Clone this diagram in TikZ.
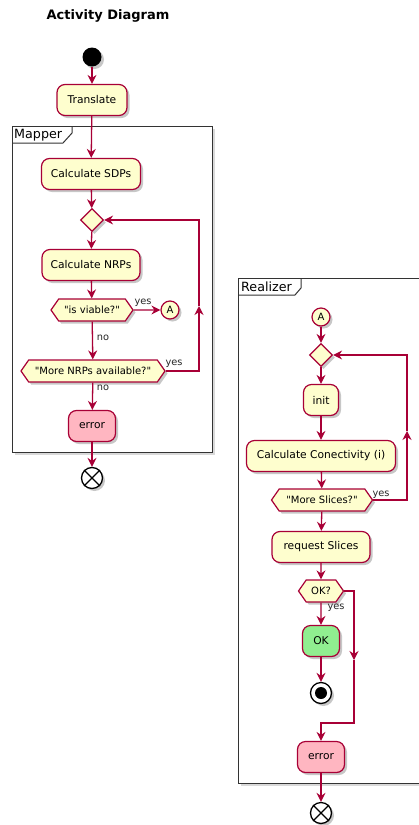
\documentclass[tikz,border=0pt]{standalone}
\usepackage{fontspec}
\setmainfont{DejaVu Sans}[Ligatures=TeXOff]
\usetikzlibrary{arrows.meta,shapes.symbols,shapes.geometric,shadows}
\definecolor{actfill}{HTML}{FEFECE}
\definecolor{actborder}{HTML}{A80036}
\definecolor{errfill}{HTML}{FFB6C1}
\definecolor{okfill}{HTML}{90EE90}
\definecolor{framecol}{HTML}{333333}
\begin{document}
\begin{tikzpicture}[x=1pt,y=-1pt,
  shad/.style={drop shadow={shadow xshift=2.5pt,shadow yshift=-2.5pt,fill=black,opacity=0.22}},
  actbox/.style={draw=actborder,line width=1.2pt,fill=actfill,rounded corners=8pt,
    minimum height=31pt,inner xsep=0pt,font=\fontsize{10.7}{12}\selectfont,shad},
  errbox/.style={actbox,fill=errfill},
  okbox/.style={actbox,fill=okfill},
  hexa/.style={shape=signal,signal to=west and east,signal pointer angle=110,
    draw=actborder,line width=1.2pt,fill=actfill,minimum height=22pt,inner xsep=0pt,
    font=\fontsize{10}{12}\selectfont,shad},
  merge/.style={shape=diamond,draw=actborder,line width=1.2pt,fill=actfill,
    minimum width=23pt,minimum height=23pt,inner sep=0pt,shad},
  conn/.style={circle,draw=actborder,line width=1.2pt,fill=actfill,minimum size=18pt,
    inner sep=0pt,font=\fontsize{10}{12}\selectfont,shad},
  startnode/.style={circle,fill=black,minimum size=19pt,inner sep=0pt,shad},
  endnode/.style={circle,draw=black,line width=1.3pt,fill=white,minimum size=21pt,inner sep=0pt,shad},
  frame/.style={draw=framecol,line width=1pt,fill=white,
    drop shadow={shadow xshift=3pt,shadow yshift=-3pt,fill=black,opacity=0.15}},
  tab/.style={draw=framecol,line width=1pt},
  framelabel/.style={anchor=west,inner sep=0pt,font=\fontsize{12.7}{14}\selectfont,text=black},
  lbl/.style={inner sep=0pt,font=\fontsize{9.8}{11}\selectfont,text=black!85},
  arr/.style={draw=actborder,line width=1.3pt,-{Stealth[length=9pt,width=9pt,inset=3pt]}},
  line/.style={draw=actborder,line width=1.3pt}
]
\useasboundingbox (0,0) rectangle (419,825);
\clip (0,0) rectangle (419,825);

% title
\node[font=\bfseries\fontsize{13}{15}\selectfont] (title) at (108,16) {Activity Diagram};

% frames
\path[frame] (12,126) rectangle (212,452);
\draw[tab] (12,143) -- (63,143) -- (72,133) -- (72,126);
\node[framelabel] (maplbl) at (14,135) {Mapper};

\path[frame] (238,278) rectangle (440,783);
\draw[tab] (238,295) -- (295,295) -- (301,288) -- (301,278);
\node[framelabel] (reallbl) at (241,287) {Realizer};

% Mapper nodes
\node[startnode] (start) at (92,57) {};
\node[actbox,minimum width=70pt] (translate) at (92,100) {Translate};
\node[actbox,minimum width=99pt] (sdps) at (91,174) {Calculate SDPs};
\node[merge] (d1) at (92,220) {};
\node[actbox,minimum width=98pt] (nrps) at (91,265) {Calculate NRPs};
\node[hexa,minimum width=82pt] (viable) at (92,310) {"is viable?"};
\node[conn] (a1) at (170,310) {A};
\node[hexa,minimum width=144pt] (morenrp) at (93,371) {"More NRPs available?"};
\node[errbox,minimum width=47pt] (err1) at (92,426) {error};
\node[endnode] (end1) at (92,478) {};
\draw[black,line width=1.3pt] (end1.north west) -- (end1.south east)
  (end1.north east) -- (end1.south west);

% Mapper connectors
\draw[arr] (start) -- (translate);
\draw[arr] (translate) -- (sdps);
\draw[arr] (sdps) -- (d1);
\draw[arr] (d1) -- (nrps);
\draw[arr] (nrps) -- (viable);
\draw[arr] (viable) -- (a1);
\node[lbl] (yes1) at (143,303) {yes};
\draw[arr] (viable) -- (morenrp);
\node[lbl] (no1) at (103,338) {no};
\coordinate (c1) at (199,371);
\coordinate (c1m) at (199,306);
\coordinate (c1t) at (199,220);
\draw[arr] (morenrp.east) -- (c1) -- (c1m);
\draw[arr] (c1m) -- (c1t) -- (d1.east);
\node[lbl] (yes2) at (174,364) {yes};
\draw[arr] (morenrp) -- (err1);
\node[lbl] (no2) at (103,388) {no};
\draw[arr] (err1) -- (end1);

% Realizer nodes
\node[conn] (a2) at (321,317) {A};
\node[merge] (d2) at (321,355) {};
\node[actbox,minimum width=35pt] (init) at (321,400) {init};
\node[actbox,minimum width=149pt] (connect) at (321,456) {Calculate Conectivity (i)};
\node[hexa,minimum width=101pt] (moresl) at (322,500) {"More Slices?"};
\node[actbox,minimum width=98pt] (request) at (321,547) {request Slices};
\node[hexa,minimum width=45pt] (okq) at (321,591) {OK?};
\node[okbox,minimum width=37pt] (ok) at (321,641) {OK};
\node[endnode] (stop) at (321,693) {};
\node[circle,fill=black,minimum size=12pt,inner sep=0pt] (stopin) at (stop) {};
\node[errbox,minimum width=47pt] (err2) at (321,757) {error};
\node[endnode] (end2) at (321,813) {};
\draw[black,line width=1.3pt] (end2.north west) -- (end2.south east)
  (end2.north east) -- (end2.south west);

% Realizer connectors
\draw[arr] (a2) -- (d2);
\draw[arr] (d2) -- (init);
\draw[arr] (init) -- (connect);
\draw[arr] (connect) -- (moresl);
\coordinate (c2) at (407,500);
\coordinate (c2m) at (407,431);
\coordinate (c2t) at (407,355);
\draw[arr] (moresl.east) -- (c2) -- (c2m);
\draw[arr] (c2m) -- (c2t) -- (d2.east);
\node[lbl] (yes3) at (381,495) {yes};
\draw[arr] (moresl) -- (request);
\draw[arr] (request) -- (okq);
\draw[arr] (okq) -- (ok);
\node[lbl] (yes4) at (336,608) {yes};
\draw[arr] (ok) -- (stop);
\coordinate (c3) at (354,591);
\coordinate (c3m) at (354,660);
\coordinate (c3b) at (354,723);
\coordinate (c3l) at (321,723);
\draw[arr] (okq.east) -- (c3) -- (c3m);
\draw[arr] (c3m) -- (c3b) -- (c3l) -- (err2);
\draw[arr] (err2) -- (end2);
\end{tikzpicture}
\end{document}
